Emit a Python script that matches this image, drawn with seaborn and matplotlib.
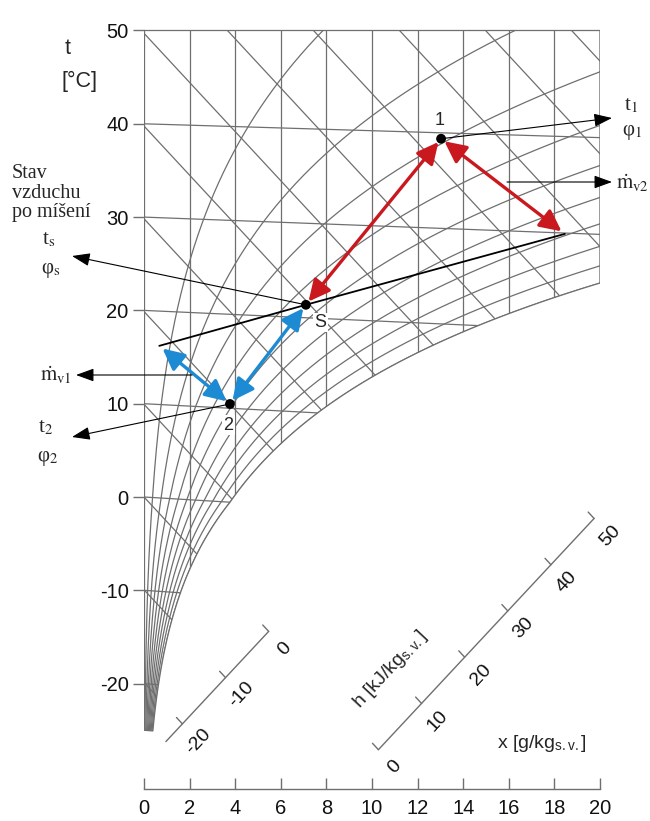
import numpy as np
import pandas as pd
import matplotlib
matplotlib.use("Agg")
import matplotlib.pyplot as plt
from matplotlib.patches import Polygon, FancyArrowPatch
import seaborn as sns

# ---------------- data ----------------
phi_levels = [10, 20, 30, 40, 50, 60, 70, 80, 90, 100]          # relative humidity [%]
t_levels = [-20, -10, 0, 10, 20, 30, 40]                         # isotherms [°C]
t_ticks = [-20, -10, 0, 10, 20, 30, 40, 50]
h_levels = [-20, -10, 0, 10, 20, 30, 40, 50, 60, 70, 80, 90, 100]  # isenthalps [kJ/kg]
x_levels = [0, 2, 4, 6, 8, 10, 12, 14, 16, 18, 20]                # moisture content [g/kg]
h_scale_left = [-20, -10, 0]
h_scale_right = [0, 10, 20, 30, 40, 50]

t_min, t_top, x_max = -25, 50, 20

# state points (x [g/kg], diagram ordinate [°C])
pt_names = ["1", "S", "2"]
pt_x = [13.03, 7.10, 3.77]
pt_y = [38.40, 20.60, 9.97]
# construction end points of the mixing line (left, right)
end_x = [0.67, 18.46]
end_y = [16.20, 28.20]

# ---------------- diagram transform ----------------
P = 101325.0
C_SKEW = 2.65
K = 1.006

def p_sat(t):
    t = np.asarray(t, dtype=float)
    water = 610.94 * np.exp(17.625 * t / (t + 243.04))
    ice = 611.15 * np.exp(22.452 * t / (272.55 + t))
    return np.where(t >= 0, water, ice)

def x_of(t, phi):
    ps = phi * p_sat(t)
    return 622.0 * ps / (P - ps)

def ordinate(t, x):
    h = 1.006 * t + x / 1000.0 * (2501.0 + 1.86 * t)
    return (h - C_SKEW * x) / K

def isenthalp(h, x):
    return (h - C_SKEW * np.asarray(x)) / K

# ---------------- figure ----------------
sns.set_theme(style="white")
plt.rcParams["font.family"] = ["Liberation Sans", "DejaVu Sans"]
plt.rcParams["mathtext.fontset"] = "stix"

W, H = 650, 821
fig = plt.figure(figsize=(W / 100, H / 100), dpi=100)
ax_left, ax_right, ax_top, ax_bottom = 144, 600, 0, 789
ax = fig.add_axes([ax_left / W, (H - ax_bottom) / H, (ax_right - ax_left) / W, (ax_bottom - ax_top) / H])
ppd_y = 9.33
ax.set_xlim(0, 20)
ax.set_ylim((497 - ax_bottom) / ppd_y, 497 / ppd_y)

GRID = "#6f6f6f"
GLW = 0.9

# region (clip) polygon
tt = np.linspace(t_min, 40, 4000)
xs = x_of(tt, 1.0)
ys = ordinate(tt, xs)
keep = xs <= x_max
t20 = np.interp(x_max, xs, tt)
sat_x = np.append(xs[keep], x_max)
sat_y = np.append(ys[keep], ordinate(t20, x_max))
verts = [(0, t_min), (0, t_top), (x_max, t_top)] + list(zip(sat_x[::-1], sat_y[::-1])) + [(0, t_min)]
region = Polygon(verts, closed=True, transform=ax.transData, fc="none", ec=GRID, lw=GLW, zorder=1)
ax.add_patch(region)

# relative humidity curves via seaborn
rows = []
tc = np.linspace(t_min, 60, 1500)
for ph in phi_levels:
    xc = x_of(tc, ph / 100.0)
    yc = ordinate(tc, xc)
    rows.append(pd.DataFrame({"x": xc, "y": yc, "phi": ph}))
df_phi = pd.concat(rows, ignore_index=True)
n0 = len(ax.lines)
sns.lineplot(data=df_phi, x="x", y="y", units="phi", estimator=None, sort=False,
             color=GRID, lw=GLW, ax=ax, legend=False)

# isotherms
xx = np.array([0.0, 20.0])
for t in t_levels:
    ax.plot(xx, ordinate(t, xx), color=GRID, lw=GLW)
# isenthalps
for h in h_levels:
    ax.plot(xx, isenthalp(h, xx), color=GRID, lw=GLW)
# constant moisture lines
for xv in x_levels:
    ax.plot([xv, xv], [t_min - 5, t_top + 5], color=GRID, lw=GLW)

for ln in ax.lines[n0:]:
    ln.set_clip_path(region)
    ln.set_zorder(1)

# ---------------- axes styling ----------------
for s in ["top", "right", "left"]:
    ax.spines[s].set_visible(False)
ax.spines["bottom"].set_bounds(0, 20)
ax.spines["bottom"].set_color(GRID)
ax.spines["bottom"].set_linewidth(1.0)
ax.set_xticks(x_levels)
ax.set_xticklabels([str(v) for v in x_levels])
ax.set_yticks(t_ticks)
ax.set_yticklabels([str(v) for v in t_ticks])
ax.tick_params(axis="x", direction="in", length=8, width=1.0, color=GRID, pad=7.5,
               labelsize=14.5, labelcolor="#111111", bottom=True)
ax.tick_params(axis="y", direction="out", length=8, width=1.0, color=GRID, pad=3,
               labelsize=14.5, labelcolor="#111111", left=True)
ax.set_xlabel("")
ax.set_ylabel("")
ax.grid(False)

# axis titles
ax.text(-3.33, 48.1, "t", fontsize=15.5, ha="center", va="center", clip_on=False)
ax.text(-2.85, 44.5, "[°C]", fontsize=15.5, ha="center", va="center", clip_on=False)
ax.text(17.46, -26.4, r"x [g/kg$_{\mathregular{s.v.}}$]", fontsize=14, ha="center", va="center")
ax.text(10.8, -18.5, r"h [kJ/kg$_{\mathregular{s.v.}}$]", fontsize=14, ha="center", va="center",
        rotation=47, rotation_mode="anchor")

# ---------------- enthalpy scales ----------------
SLOPE = 2.62
def scale_point(h, a):
    xv = (h / K - a) / (SLOPE + C_SKEW / K)
    return xv, a + SLOPE * xv

def draw_scale(levels, a, x_start=None):
    pts = [scale_point(h, a) for h in levels]
    x0 = pts[0][0] if x_start is None else x_start
    x1 = pts[-1][0]
    ax.plot([x0, x1], [a + SLOPE * x0, a + SLOPE * x1], color=GRID, lw=1.0, clip_on=False)
    for h, (px_, py_) in zip(levels, pts):
        ax.plot([px_, px_ - 0.26], [py_, isenthalp(h, px_ - 0.26)], color=GRID, lw=1.0)
        ax.annotate(str(h), (px_, py_), xytext=(11.5, -12.5), textcoords="offset points",
                    ha="center", va="center", rotation=47, fontsize=14, color="#111111")

draw_scale(h_scale_left, -28.73, x_start=0.96)
draw_scale(h_scale_right, -54.02)

# ---------------- mixing construction ----------------
RED = "#c9191e"
BLUE = "#1d8bd4"
sns.lineplot(x=end_x[:1] + [pt_x[1]] + end_x[1:], y=end_y[:1] + [pt_y[1]] + end_y[1:],
             color="black", lw=1.3, sort=False, ax=ax, zorder=3)

def dbl(a, b, col):
    ar = FancyArrowPatch(a, b, arrowstyle="<|-|>,head_length=0.65,head_width=0.32",
                         mutation_scale=20, lw=2.4, color=col, shrinkA=3, shrinkB=3, zorder=4)
    ax.add_patch(ar)

p1 = (pt_x[0], pt_y[0]); pS = (pt_x[1], pt_y[1]); p2 = (pt_x[2], pt_y[2])
A = (end_x[0], end_y[0]); B = (end_x[1], end_y[1])
dbl(p1, pS, RED)
dbl(p1, B, RED)
dbl(p2, pS, BLUE)
dbl(p2, A, BLUE)

sns.scatterplot(x=pt_x, y=pt_y, color="black", s=50, ax=ax, zorder=5, edgecolor="none", legend=False)

ax.text(pt_x[0] - 0.05, pt_y[0] + 2.0, "1", fontsize=13, ha="center", va="center", zorder=6)
ax.text(pt_x[1] + 0.65, pt_y[1] - 1.9, "S", fontsize=13, ha="center", va="center", zorder=6,
        bbox=dict(fc="white", ec="none", pad=1.0))
ax.text(pt_x[2] - 0.08, pt_y[2] - 2.3, "2", fontsize=13, ha="center", va="center", zorder=6,
        bbox=dict(fc="white", ec="none", pad=1.0))

# ---------------- annotation arrows ----------------
def pointer(start, tip):
    ax.annotate("", xy=tip, xytext=start, annotation_clip=False,
                arrowprops=dict(arrowstyle="-|>,head_length=0.55,head_width=0.2",
                                mutation_scale=20, lw=0.8, color="black",
                                shrinkA=0, shrinkB=0), zorder=6)

def dx(px):
    return (px - 144) / 22.8
def dy(py):
    return (497 - py) / ppd_y

pointer(p1, (dx(612), dy(118)))
pointer((dx(507), dy(182)), (dx(612), dy(182)))
pointer(pS, (dx(72), dy(256)))
pointer((dx(192), dy(375)), (dx(76), dy(375)))
pointer(p2, (dx(72), dy(437)))

SERIF = ["Liberation Serif", "DejaVu Serif"]
SER = dict(fontsize=15, ha="center", va="center", clip_on=False, zorder=6, family=SERIF)
ax.text(dx(631), dy(106), r"t$_{1}$", **SER)
ax.text(dx(632), dy(133), r"φ$_{1}$", **SER)
ax.text(dx(632), dy(184), r"$\dot{\mathrm{m}}_{\mathrm{v2}}$", **SER)
ax.text(dx(49), dy(240), r"t$_{\mathrm{s}}$", **SER)
ax.text(dx(51), dy(270), r"φ$_{\mathrm{s}}$", **SER)
ax.text(dx(56), dy(376), r"$\dot{\mathrm{m}}_{\mathrm{v1}}$", **SER)
ax.text(dx(46), dy(428), r"t$_{2}$", **SER)
ax.text(dx(48), dy(458), r"φ$_{2}$", **SER)
ax.text(dx(12), dy(193), "Stav\nvzduchu\npo míšení", fontsize=14.5, ha="left", va="center",
        linespacing=1.02, family=SERIF, clip_on=False)

fig.savefig("out.png", dpi=100)
